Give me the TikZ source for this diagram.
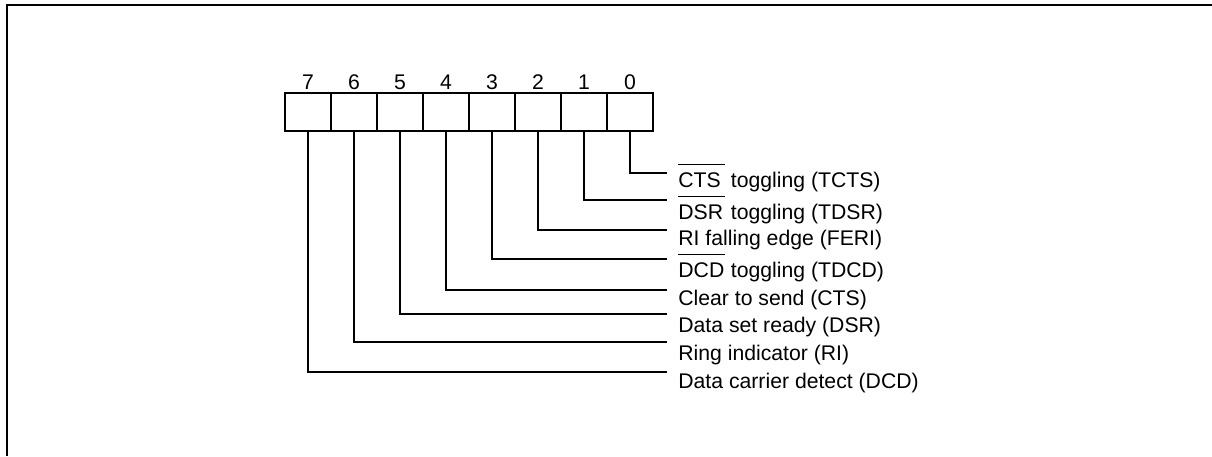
\documentclass[tikz,border=0pt]{standalone}
\usepackage{fontspec}
\setmainfont{Liberation Sans}
\usetikzlibrary{positioning}
\newcommand{\negsig}[1]{\rlap{\rule[1.02em]{2.2em}{0.9pt}}\makebox[2.2em][l]{#1}}
\begin{document}
\begin{tikzpicture}[x=0.5pt,y=-0.5pt,
    every node/.style={font=\fontsize{10.6}{12}\selectfont},
    bitbox/.style={draw,line width=1.2pt,minimum width=23pt,minimum height=19pt,inner sep=0pt},
    wire/.style={line width=1pt}]
  \useasboundingbox (0,0) rectangle (1212,456);
  \draw[line width=1pt] (1212,5) -- (7,5) -- (7,456);
  \foreach \i in {0,...,7} {
    \node[bitbox] (b\i) at ({308+(7-\i)*46},112) {};
    \node[above=1pt of b\i.north,inner sep=0pt] (n\i) {\i};
  }
  \foreach \i/\y/\b/\txt in {0/173/187/{\negsig{CTS} toggling (TCTS)},
                             1/200/219/{\negsig{DSR} toggling (TDSR)},
                             2/230/245/{RI falling edge (FERI)},
                             3/259/277/{\negsig{DCD} toggling (TDCD)},
                             4/290/305/{Clear to send (CTS)},
                             5/314/332/{Data set ready (DSR)},
                             6/342/360/{Ring indicator (RI)},
                             7/372/388/{Data carrier detect (DCD)}} {
    \coordinate (e\i) at (667,\y);
    \draw[wire] (b\i.south) |- (e\i);
    \node[anchor=base west,inner sep=0pt] (t\i) at (678,\b) {\txt};
  }
\end{tikzpicture}
\end{document}
